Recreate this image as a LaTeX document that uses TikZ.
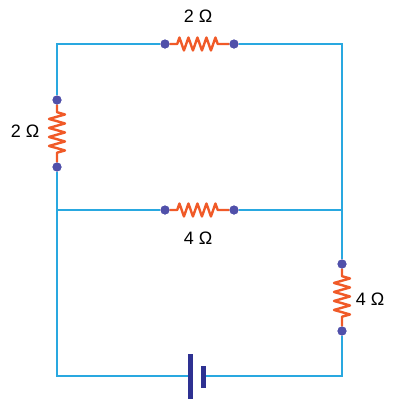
\documentclass[tikz,border=0pt]{standalone}
\usepackage{fontspec}
\setmainfont{Liberation Sans}
\usetikzlibrary{decorations.pathmorphing}
\definecolor{wireblue}{RGB}{41,168,224}
\definecolor{resorange}{RGB}{240,90,40}
\definecolor{dotblue}{RGB}{80,80,170}
\definecolor{cellnavy}{RGB}{46,49,146}

\begin{document}
\begin{tikzpicture}[x=1pt,y=-1pt,
    wire/.style ={draw=wireblue, line width=2.3pt},
    resistor/.style ={draw=resorange, line width=2.4pt, line join=round, decorate,
      decoration={zigzag, segment length=9pt, amplitude=6.5pt,
        pre length=7.5pt, post length=7.5pt}},
    resistor_v/.style ={resistor, decoration={amplitude=8pt}},
    pin/.style ={circle, fill=dotblue, inner sep=0pt, minimum size=9pt},
    plate/.style ={draw=none, fill=cellnavy},
    value/.style ={font=\fontsize{18}{20}\selectfont, inner sep=0pt}]
    \useasboundingbox (0,0) rectangle (394,400);
    % corners and junctions of the circuit
    \coordinate (tl) at (57,44);
    \coordinate (tr) at (342,44);
    \coordinate (ml) at (57,210);
    \coordinate (mr) at (342,210);
    \coordinate (bl) at (57,376);
    \coordinate (br) at (342,376);
    \coordinate (cellneg) at (190,376);
    \coordinate (cellpos) at (203,376);
    % resistor terminals
    \node [pin] (top_a) at (165,44) {};
    \node [pin] (top_b) at (234,44) {};
    \node [pin] (left_a) at (57,100) {};
    \node [pin] (left_b) at (57,167) {};
    \node [pin] (mid_a) at (165,210) {};
    \node [pin] (mid_b) at (234,210) {};
    \node [pin] (right_a) at (342,264) {};
    \node [pin] (right_b) at (342,331) {};
    % wires
    \path [wire] (top_a) -- (tl) -- (left_a);
    \path [wire] (top_b) -- (tr) -- (mr) -- (right_a);
    \path [wire] (left_b) -- (ml) -- (mid_a);
    \path [wire] (mid_b) -- (mr);
    \path [wire] (ml) -- (bl) -- (cellneg);
    \path [wire] (cellpos) -- (br) -- (right_b);
    % resistors
    \path [resistor] (top_a) -- (top_b);
    \path [resistor_v] (left_a) -- (left_b);
    \path [resistor] (mid_a) -- (mid_b);
    \path [resistor_v] (right_a) -- (right_b);
    % redraw the terminals over the leads
    \foreach \p in {top_a,top_b,left_a,left_b,mid_a,mid_b,right_a,right_b}
      \fill [dotblue] (\p) circle (4.5pt);
    % cell
    \path [plate] (188,354) rectangle (192.5,399);
    \path [plate] (201,366) rectangle (205.5,388);
    % values
    \node [value] (r_top) at (198,16) {2 Ω};
    \node [value] (r_left) at (25,131) {2 Ω};
    \node [value] (r_mid) at (198,238) {4 Ω};
    \node [value] (r_right) at (370,299) {4 Ω};
\end{tikzpicture}
\end{document}
